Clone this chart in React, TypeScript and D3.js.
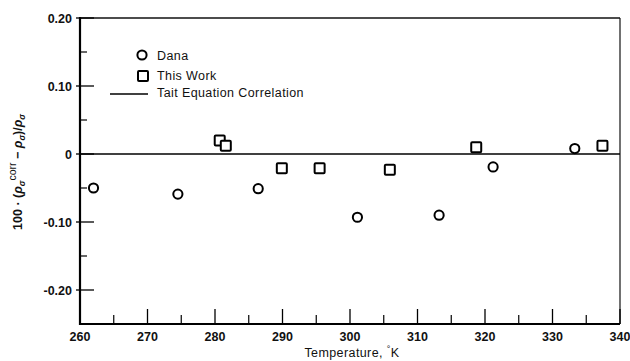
import React from "react";
import * as d3 from "d3";

// Dana data (circles)
const danaTemp = [262, 274.5, 286.4, 301.1, 313.2, 321.2, 333.3];
const danaDev = [-0.05, -0.059, -0.051, -0.093, -0.09, -0.019, 0.008];

// This Work data (squares)
const workTemp = [280.7, 281.6, 289.9, 295.5, 305.9, 318.7, 337.4];
const workDev = [0.02, 0.012, -0.021, -0.021, -0.023, 0.01, 0.012];

const yTickValues = [-0.2, -0.1, 0, 0.1, 0.2];
const yTickLabels = ["-0.20", "-0.10", "0", "0.10", "0.20"];
const xTickValues = [260, 270, 280, 290, 300, 310, 320, 330, 340];

const W = 630;
const H = 361;
const margin = { top: 18, right: 10, bottom: 37, left: 80 };
const FONT = "'Liberation Sans', Arial, sans-serif";

export default function App() {
  const x = d3
    .scaleLinear()
    .domain([260, 340])
    .range([margin.left, W - margin.right]);
  const y = d3
    .scaleLinear()
    .domain([-0.25, 0.2])
    .range([H - margin.bottom, margin.top]);

  const x0 = x(260);
  const x1 = x(340);
  const yb = y(-0.25);
  const yt = y(0.2);

  const xMinor = d3.range(265, 340, 10);
  const yMinor = [-0.15, -0.05, 0.05, 0.15];

  const danaPts = danaTemp.map((t, i) => [t, danaDev[i]]);
  const workPts = workTemp.map((t, i) => [t, workDev[i]]);

  return (
    <svg
      width={W}
      height={H}
      style={{ position: "absolute", left: 0, top: 0, background: "#fff" }}
      fontFamily={FONT}
    >
      <rect x={0} y={0} width={W} height={H} fill="#fff" />
      {/* frame */}
      <line x1={x0} y1={yt} x2={x1} y2={yt} stroke="#111" strokeWidth={1.6} />
      <line x1={x1} y1={yt} x2={x1} y2={yb} stroke="#111" strokeWidth={1.2} />
      <line x1={x0} y1={yt - 1} x2={x0} y2={yb + 1} stroke="#000" strokeWidth={2.2} />
      <line x1={x0 - 1} y1={yb} x2={x1} y2={yb} stroke="#000" strokeWidth={2.2} />

      {/* x ticks */}
      {xTickValues.map((v) => (
        <g key={"xt" + v}>
          <line x1={x(v)} x2={x(v)} y1={yb} y2={yb - 15} stroke="#000" strokeWidth={1.3} />
          <text
            x={x(v)}
            y={yb + 17}
            textAnchor="middle"
            fontSize={12.5}
            fontWeight="bold"
            fill="#111"
          >
            {v}
          </text>
        </g>
      ))}
      {xMinor.map((v) => (
        <line key={"xm" + v} x1={x(v)} x2={x(v)} y1={yb} y2={yb - 9} stroke="#000" strokeWidth={1.2} />
      ))}

      {/* y ticks */}
      {yTickValues.map((v, i) => (
        <g key={"yt" + v}>
          <line x1={x0 - 4} x2={x0 + 14} y1={y(v)} y2={y(v)} stroke="#000" strokeWidth={1.3} />
          <text
            x={x0 - 8}
            y={y(v) + 4.5}
            textAnchor="end"
            fontSize={12.5}
            fontWeight="bold"
            fill="#111"
          >
            {yTickLabels[i]}
          </text>
        </g>
      ))}
      {yMinor.map((v) => (
        <line key={"ym" + v} x1={x0} x2={x0 + 7} y1={y(v)} y2={y(v)} stroke="#000" strokeWidth={1.2} />
      ))}

      {/* Tait equation correlation: zero deviation */}
      <line x1={x0} x2={x1} y1={y(0)} y2={y(0)} stroke="#000" strokeWidth={1.6} />

      {/* Dana */}
      {danaPts.map(([t, v], i) => (
        <circle key={"d" + i} cx={x(t)} cy={y(v)} r={4.6} fill="#fff" stroke="#000" strokeWidth={2} />
      ))}
      {/* This Work */}
      {workPts.map(([t, v], i) => (
        <rect
          key={"w" + i}
          x={x(t) - 5}
          y={y(v) - 5}
          width={10}
          height={10}
          rx={1}
          fill="#fff"
          stroke="#000"
          strokeWidth={2}
        />
      ))}

      {/* legend */}
      <g fontSize={12.5} fill="#111" letterSpacing={0.4}>
        <circle cx={142} cy={55} r={4.6} fill="#fff" stroke="#000" strokeWidth={2} />
        <text x={157} y={60}>Dana</text>
        <rect x={138} y={71} width={10} height={10} rx={1} fill="#fff" stroke="#000" strokeWidth={2} />
        <text x={157} y={80}>This Work</text>
        <line x1={110} x2={148} y1={94} y2={94} stroke="#000" strokeWidth={1.4} />
        <text x={157} y={97}>Tait Equation Correlation</text>
      </g>

      {/* axis titles */}
      <text x={352} y={357} textAnchor="middle" fontSize={12.5} fill="#111" letterSpacing={0.4}>
        Temperature, <tspan dy={-5} fontSize={9}>°</tspan>
        <tspan dy={5}>K</tspan>
      </text>
      <text
        transform={`translate(22, 172) rotate(-90)`}
        textAnchor="middle"
        fontSize={12.5}
        fontWeight="bold"
        fill="#111"
      >
        100 · (
        <tspan fontStyle="italic">ρ</tspan>
        <tspan dy={3} fontSize={8.5} fontStyle="italic">σ</tspan>
        <tspan dy={-9} fontSize={10.5} fontWeight="normal">corr</tspan>
        <tspan dy={6}> − </tspan>
        <tspan fontStyle="italic">ρ</tspan>
        <tspan dy={3} fontSize={8.5} fontStyle="italic">σ</tspan>
        <tspan dy={-3}>)/</tspan>
        <tspan fontStyle="italic">ρ</tspan>
        <tspan dy={3} fontSize={8.5} fontStyle="italic">σ</tspan>
      </text>
    </svg>
  );
}
